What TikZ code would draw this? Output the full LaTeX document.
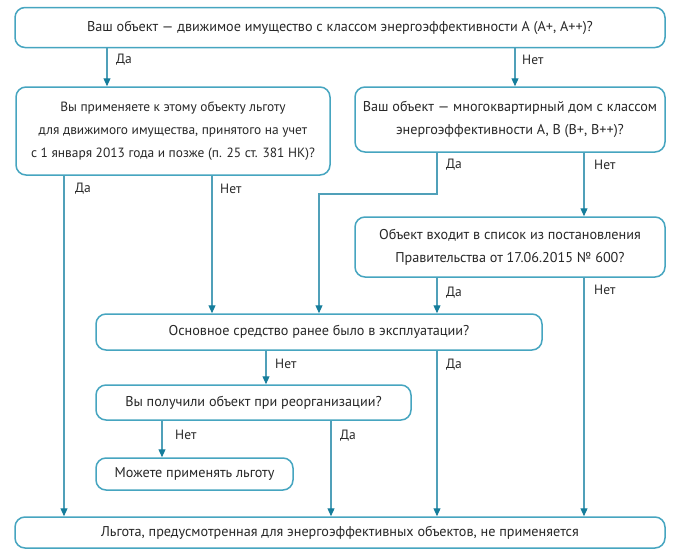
\documentclass[tikz,border=0pt]{standalone}
\usepackage{fontspec}
\setmainfont{PT Sans}
\usetikzlibrary{arrows.meta}
\definecolor{bord}{RGB}{70,165,192}
\definecolor{lin}{RGB}{80,160,185}
\definecolor{tip}{RGB}{22,125,155}
\definecolor{txt}{RGB}{40,40,40}
\begin{document}
\begin{tikzpicture}[x=1pt,y=-1pt,
  box/.style={draw=bord,line width=1.5pt,rounded corners=10pt,fill=white,inner sep=0pt,align=center,text=txt,font=\fontsize{14.2}{23}\selectfont},
  arr/.style={draw=lin,line width=1.2pt,-{Triangle[width=7pt,length=8pt,fill=tip,color=tip]}},
  lbl/.style={text=txt,font=\fontsize{13.5}{15}\selectfont,inner sep=0pt,anchor=west}]
\useasboundingbox (0,0) rectangle (678,549);
\node[box,minimum width=650,minimum height=40] (b1) at (340,27.5) {Ваш объект — движимое имущество с классом энергоэффективности А (А+, А++)?};
\node[box,minimum width=314,minimum height=88,font=\fontsize{13.4}{23}\selectfont] (b2) at (173,131) {Вы применяете к этому объекту льготу\\для движимого имущества, принятого на учет\\с 1 января 2013 года и позже (п. 25 ст. 381 НК)?};
\node[box,minimum width=310,minimum height=65] (b3) at (510,119.5) {Ваш объект — многоквартирный дом с классом\\энергоэффективности А, В (В+, В++)?};
\node[box,minimum width=310,minimum height=60] (b4) at (510,247) {Объект входит в список из постановления\\Правительства от 17.06.2015 № 600?};
\node[box,minimum width=446,minimum height=36] (b5) at (319,332) {Основное средство ранее было в эксплуатации?};
\node[box,minimum width=315,minimum height=35] (b6) at (253.5,402.5) {Вы получили объект при реорганизации?};
\node[box,minimum width=197,minimum height=32] (b7) at (194.5,474) {Можете применять льготу};
\node[box,minimum width=650,minimum height=31] (b8) at (340,532.5) {Льгота, предусмотренная для энергоэффективных объектов, не применяется};
% columns
\coordinate (c1) at (107,0);
\coordinate (c2) at (515,0);
\coordinate (c3) at (64,0);
\coordinate (c4) at (212,0);
\coordinate (c5) at (437,0);
\coordinate (c6) at (584,0);
\coordinate (c7) at (319,194);
\coordinate (c8) at (266,0);
\coordinate (c9) at (162,0);
\coordinate (c10) at (331,0);
\coordinate (k1) at (437,194);
% connectors
\draw[arr] (b1.south -| c1) -- (b2.north -| c1);
\draw[arr] (b1.south -| c2) -- (b3.north -| c2);
\draw[arr] (b2.south -| c3) -- (b8.north -| c3);
\draw[arr] (b2.south -| c4) -- (b5.north -| c4);
\draw[arr] (b3.south -| c5) -- (k1) -- (c7) -- (b5.north -| c7);
\draw[arr] (b3.south -| c6) -- (b4.north -| c6);
\draw[arr] (b4.south -| c5) -- (b5.north -| c5);
\draw[arr] (b4.south -| c6) -- (b8.north -| c6);
\draw[arr] (b5.south -| c8) -- (b6.north -| c8);
\draw[arr] (b5.south -| c5) -- (b8.north -| c5);
\draw[arr] (b6.south -| c9) -- (b7.north -| c9);
\draw[arr] (b6.south -| c10) -- (b8.north -| c10);
% labels
\node[lbl] (l1) at (116,60) {Да};
\node[lbl] (l2) at (522,60) {Нет};
\node[lbl] (l3) at (75,189) {Да};
\node[lbl] (l4) at (220,189) {Нет};
\node[lbl] (l5) at (446,165) {Да};
\node[lbl] (l6) at (594,165) {Нет};
\node[lbl] (l7) at (446,293) {Да};
\node[lbl] (l8) at (594,290) {Нет};
\node[lbl] (l9) at (275,364) {Нет};
\node[lbl] (l10) at (446,365) {Да};
\node[lbl] (l11) at (175,435) {Нет};
\node[lbl] (l12) at (340,436) {Да};
\end{tikzpicture}
\end{document}
